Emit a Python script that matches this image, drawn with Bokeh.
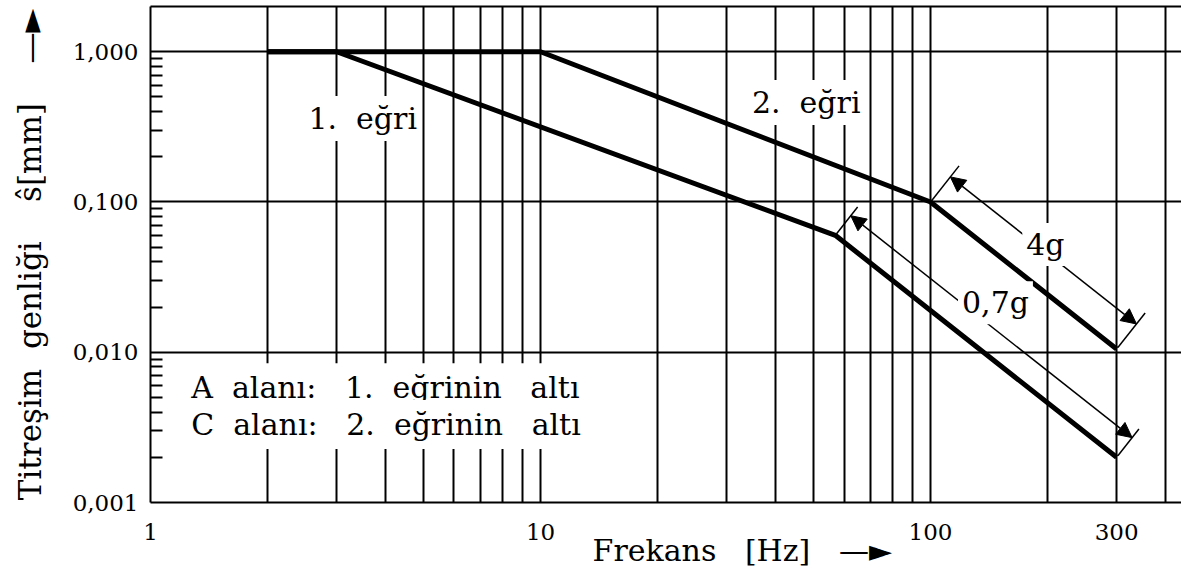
import math
from bokeh.plotting import figure
from bokeh.models import (FixedTicker, LogAxis, Label, Arrow, NormalHead,
                          CustomJSTickFormatter, Range1d)
from bokeh.embed import file_html
from bokeh.resources import INLINE

# ---------------- data ----------------
curve1_freq = [2, 3, 57, 300]
curve1_amp = [1.0, 1.0, 0.06, 0.002]
curve2_freq = [2, 10, 100, 300]
curve2_amp = [1.0, 1.0, 0.1, 0.0105]

x_major_ticks = [1, 10, 100, 300]
x_minor_ticks = [2, 3, 4, 5, 6, 7, 8, 9, 20, 30, 40, 50, 60, 70, 80, 90, 200, 400]
y_major_ticks = [0.001, 0.01, 0.1, 1.0]
y_minor_ticks = [0.002, 0.003, 0.004, 0.005, 0.006, 0.007, 0.008, 0.009,
                 0.02, 0.03, 0.04, 0.05, 0.06, 0.07, 0.08, 0.09,
                 0.2, 0.3, 0.4, 0.5, 0.6, 0.7, 0.8, 0.9]

NB = "\u00a0"
G2 = " " + NB          # two-space gap
G3 = " " + NB + " "    # three-space gap
G4 = " " + NB + NB + " "
curve_names = ["1." + G2 + "eğri", "2." + G2 + "eğri"]
curve_name_freq = [3.5, 48]
curve_name_amp = [0.36, 0.46]
accel_names = ["4g", "0,7g"]
area_lines = ["A" + G2 + "alanı:" + G3 + "1." + G2 + "eğrinin" + G3 + "altı",
              "C" + G2 + "alanı:" + G3 + "2." + G2 + "eğrinin" + G3 + "altı"]
area_line_freq = 1.22
area_line_amp = [0.0058, 0.0033]
arrow_text = "—►"
x_title = NB * 16 + "Frekans" + G3 + "[Hz]" + G3 + arrow_text
y_title = "Titreşim" + G2 + "genliği" + G4 + "ŝ[mm]" + G4 + arrow_text

# ---------------- figure ----------------
X_RANGE = (1, 440)
Y_RANGE = (0.001, 2.0)
FW, FH = 1031, 496
FONT = "DejaVu Serif"

p = figure(x_axis_type="log", y_axis_type="log",
           x_range=Range1d(*X_RANGE), y_range=Range1d(*Y_RANGE),
           frame_width=FW, frame_height=FH,
           min_border_left=150, min_border_right=0, min_border_top=6, min_border_bottom=68,
           output_backend="svg", toolbar_location=None,
           background_fill_color="white", border_fill_color="white")
p.outline_line_color = None

xa = p.xaxis[0]
xa.ticker = FixedTicker(ticks=x_major_ticks, minor_ticks=x_minor_ticks)
xa.formatter = CustomJSTickFormatter(code="return tick.toFixed(0);")
xa.major_tick_line_color = None
xa.minor_tick_line_color = None
xa.major_tick_out = 0
xa.major_tick_in = 0
xa.minor_tick_out = 0
xa.minor_tick_in = 0
xa.major_label_standoff = 21
xa.major_label_text_font = FONT
xa.major_label_text_font_size = "23px"
xa.major_label_text_color = "black"
xa.axis_line_width = 2
xa.axis_line_color = "black"
xa.axis_label = x_title
xa.axis_label_text_font = FONT
xa.axis_label_text_font_size = "30px"
xa.axis_label_text_font_style = "normal"
xa.axis_label_text_color = "black"
xa.axis_label_standoff = -10

ya = p.yaxis[0]
ya.ticker = FixedTicker(ticks=y_major_ticks, minor_ticks=y_minor_ticks)
ya.formatter = CustomJSTickFormatter(code="return tick.toFixed(3).replace('.', ',');")
ya.major_tick_line_color = None
ya.major_tick_out = 0
ya.major_tick_in = 0
ya.minor_tick_out = 0
ya.minor_tick_in = 12
ya.minor_tick_line_width = 2
ya.minor_tick_line_color = "black"
ya.major_label_standoff = 12
ya.major_label_text_font = FONT
ya.major_label_text_font_size = "23px"
ya.major_label_text_color = "black"
ya.axis_line_width = 2
ya.axis_line_color = "black"
ya.axis_label = y_title
ya.axis_label_text_font = FONT
ya.axis_label_text_font_size = "31px"
ya.axis_label_text_font_style = "normal"
ya.axis_label_text_color = "black"
ya.axis_label_standoff = 22

top = LogAxis(ticker=FixedTicker(ticks=[]), axis_line_width=2, axis_line_color="black",
              major_label_text_font_size="0px", major_tick_line_color=None,
              minor_tick_line_color=None, major_tick_out=0, minor_tick_out=0,
              major_tick_in=0, minor_tick_in=0, major_label_standoff=0)
p.add_layout(top, "above")

p.xgrid.grid_line_color = "black"
p.xgrid.grid_line_width = 2
p.xgrid.minor_grid_line_color = "black"
p.xgrid.minor_grid_line_width = 2
p.ygrid.grid_line_color = "black"
p.ygrid.grid_line_width = 2
p.ygrid.minor_grid_line_color = None

# ---------------- curves ----------------
p.line(curve1_freq, curve1_amp, line_width=5, color="black")
p.line(curve2_freq, curve2_amp, line_width=5, color="black")

# ---------------- helpers ----------------
XPX = FW / (math.log10(X_RANGE[1]) - math.log10(X_RANGE[0]))
YPX = FH / (math.log10(Y_RANGE[1]) - math.log10(Y_RANGE[0]))


def to_px(f, s):
    return math.log10(f) * XPX, -math.log10(s) * YPX


def from_px(px, py):
    return 10 ** (px / XPX), 10 ** (-py / YPX)


def text_label(x, y, text, size="30px", align="center", font=FONT, bg=None, pad=0):
    kw = dict(x=x, y=y, text=text, text_font=font, text_font_size=size,
              text_align=align, text_baseline="middle", text_color="black")
    if bg is not None:
        kw.update(background_fill_color=bg, padding=pad)
    p.add_layout(Label(**kw))


def dimension(f1, s1, f2, s2, offset, ext, text, shift):
    x1, y1 = to_px(f1, s1)
    x2, y2 = to_px(f2, s2)
    L = math.hypot(x2 - x1, y2 - y1)
    ux, uy = (x2 - x1) / L, (y2 - y1) / L
    nx, ny = uy, -ux
    for (x, y) in ((x1, y1), (x2, y2)):
        a = from_px(x + nx * 2, y + ny * 2)
        b = from_px(x + nx * ext, y + ny * ext)
        p.segment(x0=a[0], y0=a[1], x1=b[0], y1=b[1], line_width=1.5, color="black")
    s = from_px(x1 + nx * offset, y1 + ny * offset)
    e = from_px(x2 + nx * offset, y2 + ny * offset)
    p.add_layout(Arrow(start=NormalHead(size=15, fill_color="black", line_color="black", line_width=1),
                       end=NormalHead(size=15, fill_color="black", line_color="black", line_width=1),
                       x_start=s[0], y_start=s[1], x_end=e[0], y_end=e[1],
                       line_width=1.5, line_color="black"))
    mx = (x1 + x2) / 2 + nx * offset + shift[0]
    my = (y1 + y2) / 2 + ny * offset + shift[1]
    lx, ly = from_px(mx, my)
    text_label(lx, ly, text, bg="white", pad=4)


# acceleration limits (dimension arrows)
dimension(curve2_freq[2], curve2_amp[2], curve2_freq[3], curve2_amp[3], 32, 46, accel_names[0], (2, -6))
dimension(curve1_freq[2], curve1_amp[2], curve1_freq[3], curve1_amp[3], 25, 36, accel_names[1], (4, -24))

# curve names
for name, f, s in zip(curve_names, curve_name_freq, curve_name_amp):
    text_label(f, s, name, bg="white", pad=5)

# area descriptions
for line, s in zip(area_lines, area_line_amp):
    text_label(area_line_freq, s, line, align="left", bg="white", pad=7)

open("out.html", "w").write(file_html(p, INLINE))
